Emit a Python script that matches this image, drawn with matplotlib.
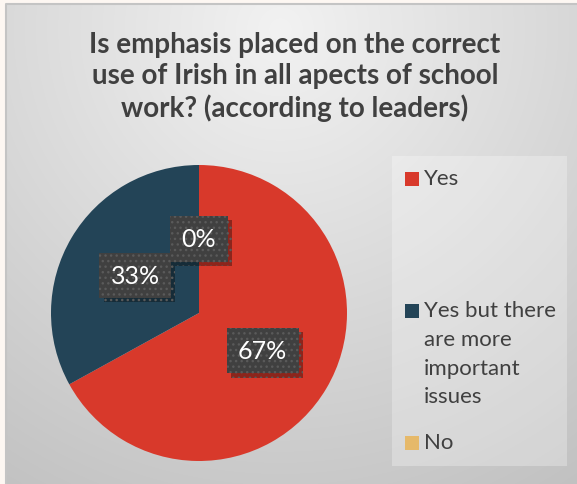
import numpy as np
import matplotlib
matplotlib.use("Agg")
import matplotlib.pyplot as plt
import matplotlib.patheffects as pe
from matplotlib.patches import Rectangle

# Survey responses (percent of leaders)
categories = ["Yes", "Yes but there\nare more\nimportant\nissues", "No"]
values = [67, 33, 0]
colors = ["#d8392b", "#234457", "#e6b96a"]
title = "Is emphasis placed on the correct\nuse of Irish in all apects of school\nwork? (according to leaders)"

W, H, DPI = 577, 485, 100
fig = plt.figure(figsize=(W / DPI, H / DPI), dpi=DPI)
fig.patch.set_facecolor("#fdf7f2")

# Chart area with a soft radial grey gradient
bg = fig.add_axes([0, 0, 1, 1], zorder=0)
bg.set_xlim(0, W)
bg.set_ylim(H, 0)
bg.axis("off")
x0, y0 = 6, 5
yy, xx = np.mgrid[y0:H, x0:W]
d = np.hypot(xx - 280, yy - 30)
shade = np.clip(242 - 0.09 * d, 180, 245) / 255.0
img = np.dstack([shade, shade, shade])
bg.imshow(img, extent=(x0, W, H, y0), aspect="auto", interpolation="bilinear")
bg.plot([x0, x0, W], [H, y0, y0], color="#c4c4c4", lw=1.5)

# Legend panel
bg.add_patch(Rectangle((392, 157), 175, 310, facecolor="white", alpha=0.28,
                       edgecolor="none"))

# Pie
cx, cy, r = 199, 314, 148
ax = fig.add_axes([(cx - r) / W, (H - cy - r) / H, 2 * r / W, 2 * r / H], zorder=2)
wedges, texts, autotexts = ax.pie(
    values, colors=colors, startangle=90, counterclock=False,
    autopct="%.0f%%", pctdistance=0.5, radius=1,
    wedgeprops=dict(linewidth=0),
    textprops=dict(color="white", fontsize=18, family="Lato"),
)
ax.set_xlim(-1, 1)
ax.set_ylim(-1, 1)
ax.set_aspect("equal")
ax.axis("off")
for t in autotexts:
    t.set_bbox(dict(boxstyle="square,pad=0.45", facecolor="#404040",
                    edgecolor="#5a5a5a", linewidth=0, hatch="..."))
    t.get_bbox_patch().set_path_effects([
        pe.SimplePatchShadow(offset=(3, -3), shadow_rgbFace="black", alpha=0.35),
        pe.Normal(),
    ])

# Title
fig.text(295 / W, 1 - 32 / H, title, ha="center", va="top", fontsize=20,
         fontweight="bold", family="Lato", color="#404040", linespacing=1.25)

# Legend entries
legend_rows = [180, 312, 444]
for lab, col, yc in zip(categories, colors, legend_rows):
    bg.add_patch(Rectangle((405, yc - 7), 14, 14, facecolor=col, edgecolor="none"))
    bg.text(424, yc - 11, lab, ha="left", va="top", fontsize=16, family="Lato",
            color="#404040", linespacing=1.55)

fig.savefig("out.png", dpi=DPI, facecolor=fig.get_facecolor())
